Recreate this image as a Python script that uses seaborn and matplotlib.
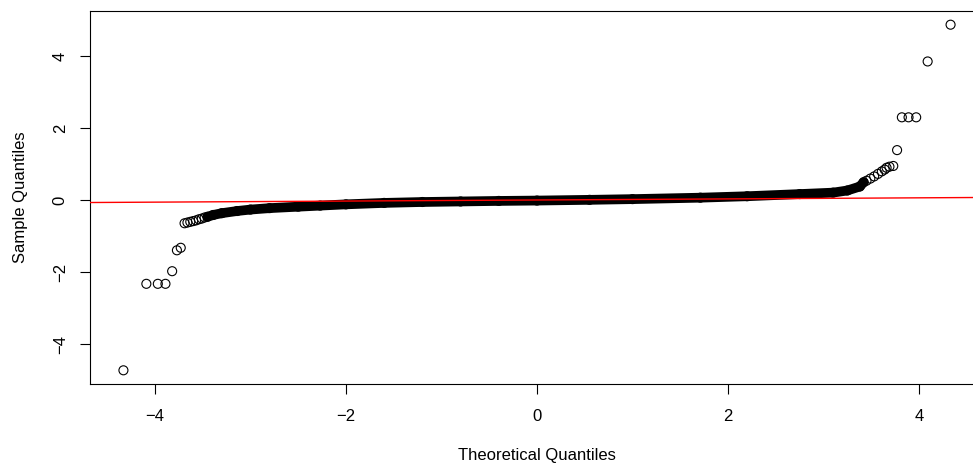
import numpy as np
import pandas as pd
import matplotlib
matplotlib.use("Agg")
import matplotlib.pyplot as plt
import seaborn as sns

# dense middle part of the QQ plot (theoretical, sample)
band_x = [-3.45, -3.39, -3.30, -3.14, -3.00, -2.80, -2.50, -2.27, -2.00, -1.60, -1.20, -0.80,
          -0.40, 0.00, 0.55, 1.00, 1.71, 2.20, 2.75, 3.10, 3.25, 3.38, 3.42]
band_y = [-0.46, -0.41, -0.36, -0.30, -0.26, -0.22, -0.18, -0.15, -0.115, -0.075, -0.05, -0.035,
          -0.02, -0.01, 0.01, 0.03, 0.07, 0.11, 0.17, 0.21, 0.27, 0.38, 0.50]

# separate circles in the lower tail
low_x = [-4.33, -4.09, -3.97, -3.89, -3.82, -3.77, -3.73, -3.69, -3.66, -3.63, -3.60,
         -3.57, -3.54, -3.51, -3.48]
low_y = [-4.72, -2.32, -2.32, -2.32, -1.97, -1.39, -1.32, -0.64, -0.62, -0.60, -0.58,
         -0.56, -0.53, -0.51, -0.48]

# separate circles in the upper tail
high_x = [3.45, 3.49, 3.53, 3.57, 3.61, 3.64, 3.66, 3.69, 3.73, 3.77, 3.82, 3.89, 3.97,
          4.09, 4.33]
high_y = [0.54, 0.60, 0.66, 0.73, 0.80, 0.85, 0.90, 0.93, 0.95, 1.39, 2.30, 2.30, 2.30,
          3.85, 4.87]

# qqline
line_intercept = 0.006
line_slope = 0.015

ticks = [-4, -2, 0, 2, 4]

sns.set_style("ticks")
plt.rcParams["font.family"] = ["Liberation Sans", "DejaVu Sans"]
plt.rcParams["axes.unicode_minus"] = True

fig = plt.figure(figsize=(9.73, 4.66), dpi=100)
ax = fig.add_axes([90 / 973, 1 - 384 / 466, (984 - 90) / 973, (384 - 11) / 466])

band = pd.DataFrame({"x": band_x, "y": band_y})
pts = pd.DataFrame({"x": low_x + band_x + high_x, "y": low_y + band_y + high_y})

sns.lineplot(data=band, x="x", y="y", ax=ax, color="black", linewidth=7.0,
             estimator=None, sort=True, solid_capstyle="round")
sns.scatterplot(data=pts, x="x", y="y", ax=ax, marker="o", s=42, fc="none",
                ec="black", linewidth=0.8, zorder=3)
ax.axline((0, line_intercept), slope=line_slope, color="red", linewidth=1.0, zorder=4)

ax.set_xlim(-4.68, 4.68)
ax.set_ylim(-5.10, 5.25)
ax.set_xticks(ticks)
ax.set_yticks(ticks)
ax.tick_params(axis="both", direction="out", length=7, width=0.8, color="black",
               labelsize=12, labelcolor="black")
ax.tick_params(axis="x", pad=11)
ax.tick_params(axis="y", pad=9)
for lab in ax.get_yticklabels():
    lab.set_rotation(90)
    lab.set_va("center")

for sp in ax.spines.values():
    sp.set_visible(True)
    sp.set_color("black")
    sp.set_linewidth(0.8)

ax.set_xlabel("Theoretical Quantiles", fontsize=12, labelpad=17, color="black")
ax.set_ylabel("Sample Quantiles", fontsize=12, labelpad=18, color="black")

fig.savefig("out.png", dpi=100)
